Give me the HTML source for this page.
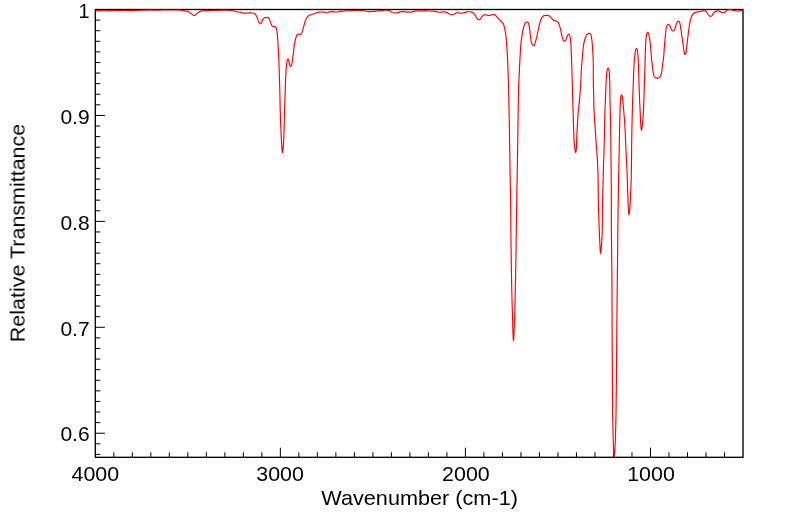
<!DOCTYPE html><html><head><meta charset="utf-8"><title>IR Spectrum</title>
<style>html,body{margin:0;padding:0;background:#fff;}svg{display:block}text{font-family:"Liberation Sans",sans-serif;fill:#000}</style></head><body>
<svg width="799" height="516" viewBox="0 0 799 516">
<rect width="799" height="516" fill="#fff"/>
<path d="M113.81 457.3V452.3M132.31 457.3V452.3M150.82 457.3V452.3M169.32 457.3V452.3M187.83 457.3V452.3M206.33 457.3V452.3M224.84 457.3V452.3M243.35 457.3V452.3M261.85 457.3V452.3M280.36 457.3V447.7M298.86 457.3V452.3M317.37 457.3V452.3M335.87 457.3V452.3M354.38 457.3V452.3M372.89 457.3V452.3M391.39 457.3V452.3M409.90 457.3V452.3M428.40 457.3V452.3M446.91 457.3V452.3M465.41 457.3V447.7M483.92 457.3V452.3M502.43 457.3V452.3M520.93 457.3V452.3M539.44 457.3V452.3M557.94 457.3V452.3M576.45 457.3V452.3M594.95 457.3V452.3M613.46 457.3V452.3M631.97 457.3V452.3M650.47 457.3V447.7M668.98 457.3V452.3M687.48 457.3V452.3M705.99 457.3V452.3M724.49 457.3V452.3M95.3 20.09H100.30M95.3 30.69H100.30M95.3 41.28H100.30M95.3 51.87H100.30M95.3 62.47H100.30M95.3 73.06H100.30M95.3 83.65H100.30M95.3 94.24H100.30M95.3 104.84H100.30M95.3 115.43H104.90M95.3 126.02H100.30M95.3 136.62H100.30M95.3 147.21H100.30M95.3 157.80H100.30M95.3 168.40H100.30M95.3 178.99H100.30M95.3 189.58H100.30M95.3 200.17H100.30M95.3 210.77H100.30M95.3 221.36H104.90M95.3 231.95H100.30M95.3 242.55H100.30M95.3 253.14H100.30M95.3 263.73H100.30M95.3 274.32H100.30M95.3 284.92H100.30M95.3 295.51H100.30M95.3 306.10H100.30M95.3 316.70H100.30M95.3 327.29H104.90M95.3 337.88H100.30M95.3 348.48H100.30M95.3 359.07H100.30M95.3 369.66H100.30M95.3 380.26H100.30M95.3 390.85H100.30M95.3 401.44H100.30M95.3 412.03H100.30M95.3 422.63H100.30M95.3 433.22H104.90M95.3 443.81H100.30M95.3 454.41H100.30" stroke="#000" stroke-width="1" fill="none"/>
<rect x="95.3" y="9.5" width="647.7" height="447.8" fill="none" stroke="#000" stroke-width="1.33"/>
<path d="M95.30 10.55 L95.64 10.56 L96.52 10.57 L97.70 10.59 L98.93 10.60 L100.00 10.60 L100.81 10.59 L101.60 10.56 L102.38 10.53 L103.18 10.51 L104.00 10.50 L104.96 10.52 L105.96 10.55 L106.97 10.60 L107.99 10.63 L109.00 10.65 L110.00 10.64 L111.00 10.60 L112.00 10.56 L113.00 10.52 L114.00 10.50 L115.00 10.51 L116.00 10.53 L117.00 10.56 L118.00 10.59 L119.00 10.60 L119.99 10.59 L120.98 10.57 L121.97 10.54 L122.97 10.51 L124.00 10.50 L125.17 10.51 L126.36 10.53 L127.57 10.56 L128.79 10.59 L130.00 10.60 L131.22 10.60 L132.46 10.58 L133.69 10.56 L134.88 10.53 L136.00 10.50 L136.84 10.47 L137.64 10.43 L138.41 10.38 L139.18 10.34 L140.00 10.30 L140.92 10.26 L141.83 10.21 L142.78 10.17 L143.82 10.13 L145.00 10.10 L147.53 10.07 L150.57 10.05 L153.83 10.05 L157.07 10.05 L160.00 10.05 L162.13 10.04 L164.15 10.02 L166.10 10.01 L168.03 10.00 L170.00 10.00 L172.06 9.99 L174.17 9.98 L176.25 9.98 L178.22 10.01 L180.00 10.10 L181.13 10.20 L182.19 10.33 L183.18 10.48 L184.11 10.64 L185.00 10.80 L185.65 10.91 L186.27 11.02 L186.85 11.13 L187.43 11.29 L188.00 11.50 L188.63 11.82 L189.25 12.22 L189.86 12.65 L190.45 13.09 L191.00 13.50 L191.43 13.82 L191.85 14.16 L192.24 14.48 L192.63 14.76 L193.00 15.00 L193.27 15.15 L193.53 15.29 L193.79 15.40 L194.05 15.47 L194.30 15.50 L194.54 15.47 L194.79 15.40 L195.02 15.29 L195.26 15.15 L195.50 15.00 L195.79 14.76 L196.07 14.47 L196.35 14.15 L196.66 13.82 L197.00 13.50 L197.52 13.08 L198.10 12.65 L198.73 12.22 L199.37 11.83 L200.00 11.50 L200.57 11.27 L201.12 11.08 L201.69 10.93 L202.31 10.81 L203.00 10.70 L204.19 10.60 L205.52 10.57 L206.97 10.59 L208.47 10.61 L210.00 10.60 L211.90 10.55 L213.93 10.48 L215.99 10.41 L218.04 10.34 L220.00 10.30 L221.69 10.27 L223.35 10.25 L224.98 10.24 L226.53 10.25 L228.00 10.30 L229.09 10.36 L230.11 10.44 L231.10 10.53 L232.06 10.65 L233.00 10.80 L233.84 10.98 L234.66 11.19 L235.46 11.42 L236.24 11.63 L237.00 11.80 L237.62 11.90 L238.21 11.97 L238.79 12.04 L239.38 12.10 L240.00 12.20 L240.75 12.37 L241.52 12.57 L242.31 12.79 L243.13 12.97 L244.00 13.10 L245.16 13.14 L246.42 13.08 L247.72 12.99 L248.97 12.91 L250.10 12.90 L250.88 12.93 L251.63 12.96 L252.33 13.02 L252.99 13.13 L253.60 13.30 L254.06 13.49 L254.49 13.70 L254.89 13.96 L255.26 14.25 L255.60 14.60 L255.96 15.09 L256.28 15.66 L256.56 16.28 L256.83 16.94 L257.10 17.60 L257.40 18.40 L257.68 19.27 L257.96 20.15 L258.26 20.98 L258.60 21.70 L258.89 22.22 L259.21 22.74 L259.54 23.21 L259.87 23.55 L260.20 23.70 L260.46 23.66 L260.74 23.51 L261.01 23.28 L261.26 23.00 L261.50 22.70 L261.77 22.19 L261.98 21.55 L262.18 20.85 L262.40 20.18 L262.70 19.60 L263.04 19.16 L263.42 18.74 L263.83 18.36 L264.27 18.05 L264.70 17.80 L265.08 17.65 L265.48 17.55 L265.89 17.50 L266.30 17.48 L266.70 17.50 L267.12 17.54 L267.55 17.60 L267.97 17.71 L268.36 17.87 L268.70 18.10 L269.02 18.49 L269.28 18.98 L269.49 19.54 L269.69 20.13 L269.90 20.70 L270.13 21.29 L270.34 21.90 L270.55 22.52 L270.77 23.13 L271.00 23.70 L271.21 24.21 L271.43 24.72 L271.65 25.21 L271.90 25.65 L272.20 26.00 L272.48 26.22 L272.80 26.39 L273.13 26.52 L273.47 26.62 L273.80 26.70 L274.11 26.72 L274.42 26.67 L274.74 26.62 L275.03 26.61 L275.30 26.70 L275.61 27.00 L275.87 27.44 L276.10 27.99 L276.31 28.59 L276.50 29.20 L276.73 30.09 L276.91 31.08 L277.05 32.14 L277.18 33.23 L277.30 34.30 L277.41 35.37 L277.51 36.42 L277.59 37.50 L277.66 38.68 L277.75 40.00 L277.91 42.56 L278.09 45.48 L278.26 48.68 L278.44 52.05 L278.60 55.50 L278.79 59.95 L278.98 64.63 L279.16 69.53 L279.33 74.65 L279.50 80.00 L279.70 87.31 L279.89 95.25 L280.07 103.40 L280.27 111.38 L280.50 118.80 L280.72 124.62 L280.95 130.40 L281.20 135.89 L281.45 140.84 L281.70 145.00 L281.83 147.08 L281.97 149.15 L282.10 150.95 L282.25 152.22 L282.40 152.70 L282.52 152.46 L282.64 151.81 L282.77 150.92 L282.89 149.94 L283.00 149.00 L283.14 147.83 L283.26 146.63 L283.38 145.32 L283.49 143.80 L283.60 142.00 L283.86 136.06 L284.11 128.18 L284.35 119.38 L284.58 110.65 L284.80 103.00 L284.96 97.91 L285.12 93.05 L285.27 88.43 L285.43 84.08 L285.60 80.00 L285.73 77.11 L285.85 74.35 L285.98 71.74 L286.12 69.32 L286.30 67.10 L286.43 65.66 L286.57 64.28 L286.71 63.01 L286.89 61.87 L287.10 60.90 L287.24 60.38 L287.40 59.88 L287.56 59.44 L287.73 59.12 L287.90 59.00 L288.04 59.07 L288.18 59.26 L288.32 59.54 L288.46 59.86 L288.60 60.20 L288.83 60.96 L289.04 61.94 L289.24 62.99 L289.46 63.99 L289.70 64.80 L289.87 65.23 L290.04 65.66 L290.22 66.03 L290.41 66.29 L290.60 66.40 L290.78 66.34 L290.97 66.16 L291.16 65.88 L291.34 65.55 L291.50 65.20 L291.77 64.35 L291.98 63.25 L292.16 62.00 L292.32 60.69 L292.50 59.40 L292.71 57.91 L292.92 56.35 L293.11 54.76 L293.31 53.16 L293.50 51.60 L293.68 50.11 L293.84 48.60 L294.00 47.12 L294.19 45.68 L294.40 44.30 L294.61 43.17 L294.84 42.07 L295.08 41.01 L295.33 39.99 L295.60 39.00 L295.82 38.13 L296.04 37.24 L296.28 36.40 L296.56 35.66 L296.90 35.10 L297.16 34.84 L297.45 34.64 L297.75 34.49 L298.07 34.38 L298.40 34.30 L298.80 34.30 L299.25 34.39 L299.70 34.50 L300.13 34.57 L300.50 34.50 L300.82 34.28 L301.10 33.96 L301.34 33.57 L301.57 33.14 L301.80 32.70 L302.07 32.10 L302.32 31.44 L302.55 30.72 L302.77 29.97 L303.00 29.20 L303.30 28.17 L303.59 27.07 L303.89 25.92 L304.19 24.79 L304.50 23.70 L304.78 22.73 L305.07 21.75 L305.36 20.81 L305.67 19.91 L306.00 19.10 L306.27 18.52 L306.54 17.98 L306.83 17.47 L307.15 17.01 L307.50 16.60 L307.85 16.28 L308.23 16.00 L308.63 15.75 L309.05 15.52 L309.50 15.30 L310.05 15.07 L310.62 14.87 L311.23 14.69 L311.86 14.51 L312.50 14.30 L313.30 14.01 L314.16 13.68 L315.02 13.36 L315.85 13.05 L316.60 12.80 L317.06 12.66 L317.48 12.53 L317.88 12.43 L318.29 12.33 L318.75 12.25 L319.43 12.15 L320.16 12.07 L320.93 12.01 L321.72 11.98 L322.50 12.00 L323.37 12.11 L324.26 12.32 L325.16 12.55 L326.04 12.71 L326.90 12.75 L327.65 12.61 L328.37 12.35 L329.08 12.05 L329.81 11.77 L330.60 11.60 L331.64 11.57 L332.73 11.68 L333.87 11.83 L335.05 11.96 L336.25 12.00 L337.67 11.89 L339.15 11.68 L340.66 11.43 L342.19 11.19 L343.75 11.00 L345.45 10.87 L347.17 10.77 L348.92 10.70 L350.70 10.64 L352.50 10.60 L354.50 10.55 L356.57 10.50 L358.64 10.48 L360.64 10.50 L362.50 10.60 L363.83 10.77 L365.06 11.00 L366.24 11.26 L367.45 11.47 L368.75 11.60 L370.41 11.61 L372.17 11.51 L373.98 11.35 L375.77 11.16 L377.50 11.00 L379.07 10.84 L380.64 10.65 L382.17 10.46 L383.64 10.32 L385.00 10.25 L385.98 10.24 L386.92 10.25 L387.80 10.29 L388.63 10.40 L389.40 10.60 L389.96 10.87 L390.45 11.22 L390.91 11.60 L391.38 11.96 L391.90 12.25 L392.49 12.48 L393.10 12.68 L393.73 12.84 L394.37 12.95 L395.00 13.00 L395.62 12.99 L396.24 12.91 L396.86 12.79 L397.48 12.64 L398.10 12.50 L398.71 12.33 L399.31 12.12 L399.91 11.90 L400.55 11.72 L401.25 11.60 L402.39 11.58 L403.68 11.69 L405.02 11.85 L406.33 12.01 L407.50 12.10 L408.25 12.12 L408.94 12.12 L409.60 12.11 L410.27 12.07 L411.00 12.00 L411.96 11.85 L412.96 11.63 L414.00 11.39 L415.09 11.16 L416.25 11.00 L417.85 10.89 L419.59 10.84 L421.39 10.84 L423.21 10.87 L425.00 10.90 L426.78 10.93 L428.59 10.96 L430.39 11.02 L432.13 11.11 L433.75 11.25 L434.97 11.43 L436.12 11.67 L437.22 11.92 L438.31 12.13 L439.40 12.25 L440.44 12.23 L441.48 12.11 L442.51 11.97 L443.49 11.88 L444.40 11.90 L445.08 12.02 L445.72 12.20 L446.33 12.41 L446.92 12.65 L447.50 12.90 L448.02 13.16 L448.53 13.45 L449.02 13.75 L449.51 14.03 L450.00 14.25 L450.45 14.42 L450.91 14.57 L451.36 14.69 L451.81 14.76 L452.25 14.75 L452.68 14.65 L453.10 14.45 L453.52 14.22 L453.95 13.97 L454.40 13.75 L454.93 13.52 L455.48 13.28 L456.05 13.05 L456.64 12.86 L457.25 12.75 L458.00 12.76 L458.80 12.89 L459.63 13.06 L460.45 13.21 L461.25 13.25 L462.01 13.16 L462.76 13.00 L463.51 12.79 L464.25 12.58 L465.00 12.40 L465.75 12.24 L466.51 12.07 L467.27 11.91 L468.02 11.80 L468.75 11.75 L469.41 11.76 L470.06 11.81 L470.70 11.91 L471.31 12.05 L471.90 12.25 L472.45 12.50 L472.98 12.81 L473.48 13.16 L473.96 13.56 L474.40 14.00 L474.82 14.57 L475.18 15.23 L475.52 15.93 L475.86 16.62 L476.25 17.25 L476.67 17.85 L477.11 18.48 L477.57 19.06 L478.04 19.51 L478.50 19.75 L478.85 19.76 L479.20 19.67 L479.56 19.49 L479.91 19.26 L480.25 19.00 L480.71 18.52 L481.14 17.89 L481.57 17.19 L482.02 16.53 L482.50 16.00 L482.91 15.65 L483.34 15.34 L483.77 15.08 L484.24 14.88 L484.75 14.75 L485.46 14.76 L486.25 14.94 L487.08 15.20 L487.92 15.42 L488.75 15.50 L489.63 15.38 L490.54 15.12 L491.45 14.82 L492.31 14.58 L493.10 14.50 L493.64 14.56 L494.15 14.67 L494.64 14.84 L495.09 15.05 L495.50 15.30 L495.85 15.59 L496.14 15.92 L496.42 16.29 L496.70 16.67 L497.00 17.05 L497.38 17.49 L497.77 17.94 L498.18 18.40 L498.59 18.86 L499.00 19.30 L499.41 19.72 L499.83 20.14 L500.24 20.54 L500.66 20.93 L501.05 21.30 L501.37 21.57 L501.69 21.82 L502.00 22.06 L502.29 22.32 L502.55 22.60 L502.79 22.91 L503.00 23.24 L503.20 23.59 L503.38 23.96 L503.55 24.35 L503.73 24.85 L503.89 25.38 L504.03 25.94 L504.16 26.51 L504.30 27.10 L504.47 27.78 L504.64 28.50 L504.80 29.23 L504.96 29.95 L505.10 30.65 L505.22 31.28 L505.32 31.89 L505.42 32.50 L505.51 33.10 L505.60 33.70 L505.69 34.26 L505.77 34.80 L505.85 35.35 L505.93 35.91 L506.00 36.50 L506.08 37.25 L506.15 38.02 L506.21 38.82 L506.28 39.67 L506.35 40.55 L506.45 41.76 L506.55 43.07 L506.66 44.43 L506.76 45.78 L506.85 47.10 L506.93 48.31 L507.00 49.50 L507.06 50.68 L507.13 51.88 L507.20 53.10 L507.28 54.43 L507.36 55.78 L507.45 57.15 L507.53 58.55 L507.60 60.00 L507.68 61.79 L507.76 63.71 L507.83 65.63 L507.90 67.44 L507.95 69.00 L507.97 69.79 L507.99 70.46 L508.01 71.09 L508.03 71.78 L508.05 72.60 L508.11 74.35 L508.19 76.33 L508.27 78.58 L508.36 81.13 L508.45 84.00 L508.63 91.19 L508.82 100.09 L509.02 109.98 L509.22 120.18 L509.40 130.00 L509.58 140.23 L509.74 150.93 L509.90 161.52 L510.06 171.41 L510.20 180.00 L510.29 184.46 L510.37 188.30 L510.45 191.90 L510.53 195.67 L510.60 200.00 L510.69 207.66 L510.77 216.43 L510.85 225.57 L510.92 234.34 L511.00 242.00 L511.06 246.40 L511.11 250.33 L511.17 254.06 L511.23 257.86 L511.30 262.00 L511.39 267.85 L511.49 274.27 L511.59 280.77 L511.70 286.85 L511.80 292.00 L511.86 294.51 L511.92 296.67 L511.97 298.69 L512.03 300.73 L512.10 303.00 L512.19 306.21 L512.29 309.68 L512.40 313.24 L512.50 316.73 L512.60 320.00 L512.67 322.60 L512.74 325.15 L512.81 327.60 L512.88 329.90 L512.95 332.00 L513.00 333.37 L513.04 334.67 L513.08 335.88 L513.13 336.99 L513.20 338.00 L513.25 338.67 L513.31 339.37 L513.38 339.99 L513.44 340.43 L513.50 340.60 L513.55 340.46 L513.61 340.11 L513.66 339.61 L513.71 339.05 L513.75 338.50 L513.81 337.58 L513.85 336.52 L513.89 335.37 L513.93 334.18 L513.98 333.00 L514.04 331.66 L514.10 330.28 L514.17 328.87 L514.23 327.44 L514.30 326.00 L514.37 324.49 L514.45 322.99 L514.52 321.46 L514.59 319.81 L514.66 318.00 L514.75 314.75 L514.84 310.97 L514.93 307.03 L515.00 303.25 L515.07 300.00 L515.11 298.24 L515.15 296.71 L515.18 295.26 L515.21 293.74 L515.25 292.00 L515.31 289.07 L515.38 285.84 L515.45 282.39 L515.53 278.75 L515.60 275.00 L515.69 270.11 L515.78 264.99 L515.87 259.61 L515.96 253.96 L516.05 248.00 L516.17 239.52 L516.30 230.29 L516.43 220.71 L516.56 211.15 L516.70 202.00 L516.84 194.01 L516.98 186.22 L517.12 178.52 L517.27 170.81 L517.40 163.00 L517.53 154.82 L517.64 146.55 L517.76 138.26 L517.88 130.05 L518.00 122.00 L518.12 114.25 L518.24 106.23 L518.37 98.48 L518.50 91.56 L518.65 86.00 L518.73 83.94 L518.81 82.19 L518.89 80.64 L518.97 79.16 L519.05 77.60 L519.12 76.09 L519.19 74.62 L519.26 73.16 L519.33 71.66 L519.40 70.10 L519.49 68.15 L519.59 66.08 L519.70 63.97 L519.80 61.92 L519.90 60.00 L519.98 58.54 L520.06 57.17 L520.14 55.83 L520.22 54.49 L520.30 53.10 L520.39 51.52 L520.48 49.89 L520.58 48.25 L520.68 46.64 L520.80 45.10 L520.92 43.80 L521.04 42.52 L521.17 41.28 L521.31 40.10 L521.45 39.00 L521.55 38.25 L521.66 37.56 L521.76 36.91 L521.88 36.23 L522.00 35.50 L522.16 34.49 L522.34 33.42 L522.53 32.31 L522.73 31.21 L522.95 30.15 L523.17 29.19 L523.41 28.24 L523.65 27.31 L523.92 26.42 L524.20 25.60 L524.43 24.97 L524.67 24.35 L524.92 23.77 L525.20 23.26 L525.50 22.85 L525.73 22.62 L525.98 22.42 L526.23 22.26 L526.49 22.15 L526.75 22.10 L527.00 22.11 L527.27 22.16 L527.53 22.27 L527.78 22.41 L528.00 22.60 L528.26 22.95 L528.48 23.40 L528.67 23.93 L528.84 24.50 L529.00 25.10 L529.20 25.99 L529.36 26.99 L529.50 28.05 L529.62 29.12 L529.75 30.15 L529.87 31.13 L529.98 32.12 L530.09 33.10 L530.19 34.06 L530.30 35.00 L530.39 35.82 L530.48 36.62 L530.57 37.40 L530.67 38.19 L530.80 39.00 L530.95 39.94 L531.12 40.94 L531.30 41.92 L531.53 42.83 L531.80 43.60 L532.02 44.04 L532.26 44.44 L532.51 44.79 L532.78 45.08 L533.05 45.30 L533.24 45.41 L533.44 45.50 L533.64 45.55 L533.83 45.55 L534.00 45.50 L534.22 45.27 L534.41 44.89 L534.57 44.40 L534.73 43.85 L534.90 43.30 L535.19 42.45 L535.49 41.51 L535.80 40.49 L536.10 39.41 L536.40 38.30 L536.77 36.81 L537.13 35.20 L537.48 33.53 L537.84 31.85 L538.20 30.20 L538.55 28.56 L538.89 26.87 L539.24 25.21 L539.61 23.63 L540.00 22.20 L540.31 21.22 L540.61 20.29 L540.94 19.42 L541.29 18.62 L541.70 17.90 L542.06 17.38 L542.44 16.90 L542.85 16.47 L543.29 16.10 L543.75 15.80 L544.22 15.59 L544.73 15.45 L545.25 15.36 L545.78 15.31 L546.30 15.30 L546.81 15.32 L547.32 15.37 L547.83 15.47 L548.32 15.61 L548.80 15.80 L549.29 16.07 L549.76 16.40 L550.22 16.78 L550.66 17.18 L551.10 17.60 L551.55 18.10 L551.97 18.66 L552.38 19.23 L552.82 19.75 L553.30 20.15 L553.77 20.38 L554.28 20.53 L554.80 20.64 L555.31 20.75 L555.80 20.90 L556.25 21.07 L556.70 21.25 L557.13 21.44 L557.53 21.69 L557.90 22.00 L558.28 22.49 L558.60 23.08 L558.88 23.74 L559.14 24.45 L559.40 25.20 L559.74 26.27 L560.04 27.44 L560.33 28.68 L560.61 29.95 L560.90 31.20 L561.19 32.54 L561.47 33.93 L561.76 35.32 L562.06 36.63 L562.40 37.80 L562.67 38.62 L562.94 39.44 L563.23 40.18 L563.54 40.76 L563.90 41.10 L564.15 41.17 L564.41 41.16 L564.69 41.09 L564.96 40.97 L565.20 40.80 L565.53 40.40 L565.82 39.82 L566.08 39.15 L566.34 38.45 L566.60 37.80 L566.86 37.16 L567.10 36.47 L567.35 35.81 L567.61 35.23 L567.90 34.80 L568.09 34.62 L568.30 34.46 L568.51 34.34 L568.71 34.28 L568.90 34.30 L569.14 34.48 L569.35 34.81 L569.55 35.25 L569.73 35.76 L569.90 36.30 L570.15 37.34 L570.34 38.58 L570.49 39.96 L570.62 41.45 L570.75 43.00 L570.92 45.28 L571.06 47.76 L571.18 50.39 L571.29 53.15 L571.40 56.00 L571.54 59.66 L571.67 63.51 L571.79 67.52 L571.92 71.69 L572.05 76.00 L572.22 81.52 L572.38 87.37 L572.56 93.39 L572.73 99.39 L572.90 105.20 L573.06 110.63 L573.23 116.15 L573.40 121.53 L573.55 126.55 L573.70 131.00 L573.78 133.56 L573.83 135.90 L573.90 138.07 L573.98 140.12 L574.10 142.10 L574.23 143.65 L574.38 145.14 L574.54 146.57 L574.72 147.89 L574.90 149.10 L575.03 149.95 L575.17 150.83 L575.31 151.62 L575.46 152.18 L575.60 152.40 L575.75 152.19 L575.90 151.63 L576.05 150.85 L576.19 149.96 L576.30 149.10 L576.42 147.68 L576.49 146.03 L576.52 144.27 L576.55 142.55 L576.60 141.00 L576.65 139.95 L576.70 139.01 L576.74 138.08 L576.80 137.10 L576.85 136.00 L576.94 134.06 L577.03 131.84 L577.13 129.51 L577.24 127.22 L577.35 125.10 L577.45 123.50 L577.55 121.98 L577.65 120.50 L577.75 119.05 L577.85 117.60 L577.94 116.24 L578.02 114.88 L578.11 113.54 L578.20 112.25 L578.30 111.00 L578.40 110.01 L578.51 109.08 L578.62 108.16 L578.73 107.22 L578.85 106.20 L579.00 104.78 L579.16 103.25 L579.31 101.66 L579.46 100.09 L579.60 98.60 L579.71 97.34 L579.81 96.12 L579.91 94.92 L580.00 93.72 L580.10 92.50 L580.20 91.21 L580.31 89.90 L580.41 88.59 L580.51 87.29 L580.60 86.00 L580.67 84.80 L580.73 83.62 L580.79 82.44 L580.84 81.24 L580.90 80.00 L580.96 78.55 L581.01 77.07 L581.06 75.55 L581.12 73.97 L581.20 72.30 L581.34 70.06 L581.51 67.68 L581.69 65.20 L581.89 62.69 L582.10 60.20 L582.31 57.55 L582.53 54.80 L582.76 52.07 L583.01 49.46 L583.30 47.10 L583.52 45.52 L583.76 44.04 L584.00 42.65 L584.28 41.34 L584.60 40.10 L584.88 39.17 L585.18 38.29 L585.50 37.46 L585.84 36.69 L586.20 36.00 L586.48 35.52 L586.76 35.07 L587.06 34.66 L587.37 34.30 L587.70 34.00 L587.99 33.78 L588.29 33.58 L588.60 33.41 L588.90 33.31 L589.20 33.30 L589.52 33.39 L589.84 33.57 L590.15 33.83 L590.44 34.14 L590.70 34.50 L591.01 35.19 L591.23 36.04 L591.40 37.01 L591.55 38.04 L591.70 39.10 L591.90 40.52 L592.07 42.04 L592.22 43.65 L592.36 45.34 L592.50 47.10 L592.67 49.46 L592.83 51.96 L592.97 54.59 L593.10 57.33 L593.20 60.20 L593.28 64.10 L593.31 68.31 L593.31 72.65 L593.32 76.94 L593.35 81.00 L593.41 84.36 L593.48 87.63 L593.55 90.82 L593.63 93.94 L593.70 97.00 L593.76 99.74 L593.81 102.46 L593.86 105.11 L593.92 107.64 L594.00 110.00 L594.08 111.65 L594.16 113.19 L594.26 114.66 L594.35 116.12 L594.45 117.60 L594.54 119.08 L594.64 120.54 L594.74 122.00 L594.84 123.51 L594.95 125.10 L595.09 127.19 L595.25 129.43 L595.41 131.72 L595.56 133.94 L595.70 136.00 L595.80 137.50 L595.89 138.91 L595.97 140.27 L596.06 141.62 L596.15 143.00 L596.25 144.41 L596.36 145.82 L596.47 147.23 L596.59 148.68 L596.70 150.20 L596.84 152.09 L596.99 154.08 L597.14 156.12 L597.28 158.17 L597.40 160.20 L597.51 162.21 L597.61 164.22 L597.70 166.24 L597.78 168.26 L597.85 170.30 L597.91 172.35 L597.97 174.35 L598.01 176.39 L598.05 178.58 L598.10 181.00 L598.16 185.20 L598.22 189.94 L598.28 195.00 L598.35 200.15 L598.45 205.20 L598.59 210.43 L598.75 215.83 L598.93 221.20 L599.12 226.32 L599.30 231.00 L599.43 234.15 L599.55 237.12 L599.68 239.93 L599.81 242.59 L599.95 245.10 L600.06 247.17 L600.17 249.37 L600.28 251.38 L600.41 252.84 L600.55 253.40 L600.72 252.84 L600.92 251.38 L601.13 249.38 L601.33 247.17 L601.50 245.10 L601.69 242.59 L601.84 239.93 L601.98 237.12 L602.10 234.15 L602.20 231.00 L602.30 226.32 L602.36 221.20 L602.39 215.83 L602.43 210.43 L602.50 205.20 L602.60 200.23 L602.72 195.21 L602.85 190.27 L602.98 185.49 L603.10 181.00 L603.18 177.65 L603.26 174.51 L603.33 171.47 L603.41 168.43 L603.50 165.30 L603.61 161.91 L603.74 158.47 L603.87 155.01 L603.99 151.55 L604.10 148.10 L604.19 144.67 L604.28 141.22 L604.36 137.79 L604.43 134.37 L604.50 131.00 L604.56 127.83 L604.61 124.71 L604.66 121.60 L604.72 118.47 L604.80 115.30 L604.92 111.91 L605.05 108.47 L605.20 105.01 L605.36 101.55 L605.50 98.10 L605.63 94.59 L605.75 90.98 L605.87 87.42 L606.00 84.05 L606.15 81.00 L606.26 79.01 L606.37 77.12 L606.49 75.36 L606.63 73.74 L606.80 72.30 L606.92 71.45 L607.03 70.65 L607.16 69.92 L607.32 69.29 L607.50 68.80 L607.61 68.59 L607.73 68.40 L607.85 68.24 L607.98 68.13 L608.10 68.10 L608.25 68.18 L608.40 68.37 L608.54 68.64 L608.68 68.96 L608.80 69.30 L608.99 70.06 L609.12 71.01 L609.23 72.08 L609.32 73.20 L609.40 74.30 L609.49 75.52 L609.55 76.74 L609.61 78.02 L609.65 79.42 L609.70 81.00 L609.77 84.20 L609.83 87.95 L609.88 92.01 L609.93 96.17 L610.00 100.20 L610.09 104.29 L610.20 108.51 L610.31 112.69 L610.41 116.67 L610.50 120.30 L610.55 122.59 L610.59 124.61 L610.63 126.57 L610.66 128.64 L610.70 131.00 L610.75 135.20 L610.80 139.94 L610.85 145.00 L610.90 150.15 L610.95 155.20 L611.01 160.17 L611.07 165.05 L611.14 170.03 L611.20 175.29 L611.25 181.00 L611.30 190.24 L611.32 200.68 L611.34 211.51 L611.36 221.89 L611.40 231.00 L611.44 236.38 L611.49 241.27 L611.54 245.88 L611.60 250.45 L611.65 255.20 L611.71 260.17 L611.77 265.04 L611.84 270.01 L611.90 275.27 L611.95 281.00 L612.00 290.16 L612.02 300.34 L612.04 311.04 L612.06 321.77 L612.10 332.00 L612.15 341.12 L612.21 350.17 L612.28 359.06 L612.34 367.70 L612.40 376.00 L612.44 382.97 L612.48 389.90 L612.52 396.55 L612.56 402.67 L612.60 408.00 L612.63 410.74 L612.65 413.13 L612.68 415.35 L612.71 417.58 L612.75 420.00 L612.81 423.09 L612.87 426.35 L612.94 429.66 L613.02 432.91 L613.10 436.00 L613.17 438.57 L613.25 441.10 L613.33 443.55 L613.41 445.86 L613.50 448.00 L613.57 449.48 L613.63 450.89 L613.70 452.22 L613.78 453.43 L613.85 454.50 L613.90 455.16 L613.95 455.82 L614.00 456.42 L614.05 456.84 L614.10 457.00 L614.16 456.83 L614.22 456.40 L614.28 455.79 L614.34 455.13 L614.40 454.50 L614.48 453.71 L614.56 452.87 L614.64 451.97 L614.72 451.02 L614.80 450.00 L614.91 448.42 L615.01 446.70 L615.11 444.87 L615.21 442.96 L615.30 441.00 L615.40 438.53 L615.48 435.89 L615.56 433.19 L615.63 430.53 L615.70 428.00 L615.76 426.00 L615.81 424.15 L615.86 422.30 L615.90 420.30 L615.95 418.00 L616.03 413.46 L616.10 408.30 L616.16 402.60 L616.23 396.47 L616.30 390.00 L616.40 379.68 L616.50 368.13 L616.60 355.93 L616.70 343.70 L616.80 332.00 L616.90 321.31 L617.00 310.54 L617.11 300.00 L617.21 290.05 L617.30 281.00 L617.36 275.27 L617.43 270.01 L617.49 265.04 L617.55 260.17 L617.60 255.20 L617.64 250.28 L617.68 245.38 L617.72 240.51 L617.75 235.71 L617.80 231.00 L617.85 226.80 L617.91 222.74 L617.97 218.70 L618.03 214.56 L618.10 210.20 L618.18 204.65 L618.27 198.79 L618.36 192.79 L618.45 186.80 L618.55 181.00 L618.65 175.72 L618.77 170.53 L618.88 165.38 L618.99 160.28 L619.10 155.20 L619.20 150.23 L619.29 145.21 L619.38 140.27 L619.46 135.49 L619.55 131.00 L619.62 127.62 L619.68 124.41 L619.75 121.32 L619.82 118.29 L619.90 115.30 L619.98 112.52 L620.07 109.74 L620.16 107.03 L620.27 104.48 L620.40 102.20 L620.49 100.75 L620.58 99.36 L620.68 98.08 L620.82 96.97 L621.00 96.10 L621.11 95.75 L621.23 95.43 L621.35 95.15 L621.48 94.97 L621.60 94.90 L621.76 95.04 L621.93 95.40 L622.10 95.91 L622.26 96.50 L622.40 97.10 L622.62 98.37 L622.78 99.92 L622.92 101.65 L623.05 103.44 L623.20 105.20 L623.38 107.14 L623.56 109.12 L623.75 111.15 L623.93 113.21 L624.10 115.30 L624.28 117.54 L624.46 119.79 L624.63 122.09 L624.79 124.48 L624.95 127.00 L625.13 130.39 L625.29 134.03 L625.44 137.79 L625.59 141.52 L625.75 145.10 L625.90 148.19 L626.05 151.20 L626.20 154.17 L626.35 157.15 L626.50 160.20 L626.66 163.49 L626.81 166.83 L626.97 170.19 L627.11 173.59 L627.25 177.00 L627.37 180.60 L627.48 184.27 L627.57 187.95 L627.68 191.57 L627.80 195.10 L627.92 198.35 L628.05 201.67 L628.19 204.87 L628.34 207.77 L628.50 210.20 L628.59 211.41 L628.68 212.62 L628.78 213.67 L628.89 214.42 L629.00 214.70 L629.13 214.42 L629.27 213.68 L629.42 212.63 L629.57 211.42 L629.70 210.20 L629.90 207.74 L630.07 204.78 L630.22 201.53 L630.36 198.23 L630.50 195.10 L630.64 192.29 L630.78 189.56 L630.92 186.81 L631.04 183.99 L631.15 181.00 L631.25 177.15 L631.33 173.14 L631.39 168.97 L631.44 164.65 L631.50 160.20 L631.57 154.67 L631.63 148.87 L631.68 142.91 L631.76 136.91 L631.85 131.00 L631.97 125.10 L632.12 119.10 L632.27 113.15 L632.44 107.41 L632.60 102.00 L632.73 97.93 L632.87 94.08 L633.01 90.37 L633.16 86.70 L633.30 83.00 L633.43 79.32 L633.55 75.60 L633.67 71.93 L633.82 68.40 L634.00 65.10 L634.17 62.63 L634.36 60.24 L634.56 57.96 L634.78 55.87 L635.00 54.00 L635.14 52.89 L635.27 51.82 L635.41 50.86 L635.58 50.03 L635.80 49.40 L635.93 49.15 L636.07 48.93 L636.21 48.75 L636.36 48.63 L636.50 48.60 L636.66 48.68 L636.82 48.88 L636.97 49.17 L637.12 49.52 L637.25 49.90 L637.51 51.05 L637.70 52.59 L637.85 54.36 L637.98 56.25 L638.10 58.10 L638.24 60.35 L638.35 62.75 L638.44 65.21 L638.52 67.65 L638.60 70.00 L638.67 72.00 L638.72 73.90 L638.78 75.79 L638.83 77.79 L638.90 80.00 L639.02 83.64 L639.15 87.75 L639.30 92.04 L639.45 96.22 L639.60 100.00 L639.72 102.60 L639.84 105.04 L639.96 107.37 L640.08 109.67 L640.20 112.00 L640.30 114.33 L640.38 116.68 L640.47 119.00 L640.57 121.22 L640.70 123.30 L640.82 125.01 L640.94 126.84 L641.07 128.51 L641.23 129.72 L641.40 130.20 L641.53 130.03 L641.67 129.57 L641.82 128.91 L641.97 128.16 L642.10 127.40 L642.31 125.95 L642.51 124.22 L642.68 122.32 L642.85 120.32 L643.00 118.30 L643.17 115.81 L643.32 113.19 L643.46 110.49 L643.58 107.74 L643.70 105.00 L643.82 102.11 L643.92 99.18 L644.01 96.23 L644.10 93.26 L644.20 90.30 L644.30 87.29 L644.41 84.28 L644.51 81.25 L644.61 78.23 L644.70 75.20 L644.78 72.16 L644.86 69.12 L644.94 66.08 L645.01 63.03 L645.10 60.00 L645.19 56.93 L645.27 53.80 L645.36 50.70 L645.47 47.74 L645.60 45.00 L645.71 43.04 L645.83 41.15 L645.96 39.36 L646.11 37.73 L646.30 36.30 L646.43 35.49 L646.57 34.73 L646.72 34.04 L646.89 33.45 L647.10 33.00 L647.23 32.81 L647.37 32.64 L647.52 32.50 L647.66 32.42 L647.80 32.40 L647.97 32.50 L648.14 32.72 L648.30 33.03 L648.45 33.38 L648.60 33.75 L648.83 34.46 L649.05 35.31 L649.24 36.26 L649.42 37.27 L649.60 38.30 L649.81 39.69 L650.00 41.18 L650.17 42.75 L650.34 44.36 L650.50 46.00 L650.67 47.94 L650.83 49.97 L650.99 52.04 L651.14 54.07 L651.30 56.00 L651.45 57.60 L651.59 59.14 L651.74 60.65 L651.90 62.14 L652.05 63.60 L652.19 64.96 L652.34 66.31 L652.48 67.64 L652.63 68.91 L652.80 70.10 L652.94 70.98 L653.08 71.82 L653.23 72.61 L653.39 73.38 L653.55 74.10 L653.68 74.67 L653.81 75.22 L653.95 75.74 L654.11 76.22 L654.30 76.65 L654.47 76.95 L654.66 77.23 L654.86 77.47 L655.08 77.67 L655.30 77.80 L655.49 77.83 L655.68 77.80 L655.89 77.74 L656.09 77.70 L656.30 77.70 L656.55 77.81 L656.81 77.98 L657.08 78.18 L657.34 78.34 L657.60 78.40 L657.85 78.35 L658.10 78.22 L658.35 78.05 L658.60 77.87 L658.85 77.70 L659.11 77.56 L659.37 77.43 L659.63 77.28 L659.88 77.12 L660.10 76.90 L660.35 76.54 L660.57 76.12 L660.76 75.64 L660.93 75.13 L661.10 74.60 L661.30 73.88 L661.47 73.10 L661.63 72.28 L661.77 71.44 L661.90 70.60 L662.02 69.72 L662.12 68.83 L662.21 67.93 L662.30 67.02 L662.40 66.10 L662.53 65.10 L662.67 64.08 L662.81 63.05 L662.96 62.02 L663.10 61.00 L663.24 60.02 L663.37 59.05 L663.51 58.08 L663.64 57.08 L663.75 56.00 L663.87 54.52 L663.96 52.94 L664.05 51.29 L664.14 49.63 L664.25 48.00 L664.39 46.39 L664.54 44.77 L664.70 43.16 L664.85 41.57 L665.00 40.00 L665.12 38.55 L665.24 37.12 L665.35 35.71 L665.47 34.33 L665.60 33.00 L665.72 31.86 L665.83 30.73 L665.95 29.63 L666.10 28.61 L666.30 27.70 L666.46 27.11 L666.63 26.55 L666.83 26.03 L667.05 25.58 L667.30 25.20 L667.52 24.95 L667.75 24.73 L668.00 24.55 L668.26 24.43 L668.50 24.40 L668.77 24.50 L669.03 24.71 L669.30 25.00 L669.55 25.34 L669.80 25.70 L670.12 26.30 L670.41 27.03 L670.69 27.80 L670.98 28.56 L671.30 29.20 L671.58 29.66 L671.87 30.13 L672.18 30.54 L672.49 30.85 L672.80 31.00 L673.06 30.99 L673.33 30.88 L673.60 30.70 L673.86 30.46 L674.10 30.20 L674.43 29.68 L674.72 29.01 L674.99 28.25 L675.24 27.46 L675.50 26.70 L675.77 25.88 L676.02 25.02 L676.27 24.16 L676.54 23.37 L676.85 22.70 L677.10 22.29 L677.36 21.90 L677.64 21.56 L677.92 21.31 L678.20 21.20 L678.44 21.22 L678.70 21.33 L678.95 21.50 L679.19 21.73 L679.40 22.00 L679.69 22.59 L679.90 23.36 L680.07 24.25 L680.23 25.21 L680.40 26.20 L680.65 27.64 L680.89 29.23 L681.13 30.90 L681.36 32.61 L681.60 34.30 L681.86 36.09 L682.13 37.93 L682.40 39.77 L682.66 41.58 L682.90 43.30 L683.09 44.74 L683.28 46.16 L683.45 47.54 L683.63 48.83 L683.80 50.00 L683.91 50.76 L684.01 51.49 L684.12 52.16 L684.24 52.77 L684.40 53.30 L684.52 53.62 L684.66 53.95 L684.81 54.23 L684.96 54.43 L685.10 54.50 L685.24 54.43 L685.39 54.23 L685.54 53.95 L685.68 53.62 L685.80 53.30 L685.96 52.76 L686.09 52.13 L686.20 51.45 L686.30 50.73 L686.40 50.00 L686.51 49.15 L686.60 48.28 L686.69 47.36 L686.79 46.38 L686.90 45.30 L687.12 43.38 L687.37 41.18 L687.64 38.85 L687.92 36.51 L688.20 34.30 L688.44 32.39 L688.68 30.51 L688.93 28.66 L689.18 26.89 L689.45 25.20 L689.67 23.87 L689.89 22.58 L690.12 21.35 L690.37 20.19 L690.65 19.10 L690.89 18.31 L691.14 17.57 L691.40 16.86 L691.69 16.21 L692.00 15.60 L692.27 15.14 L692.55 14.70 L692.84 14.30 L693.16 13.93 L693.50 13.60 L693.86 13.32 L694.25 13.08 L694.66 12.87 L695.08 12.67 L695.50 12.50 L695.94 12.35 L696.38 12.22 L696.83 12.11 L697.30 12.01 L697.80 11.90 L698.46 11.75 L699.16 11.60 L699.88 11.46 L700.60 11.32 L701.30 11.20 L701.95 11.08 L702.60 10.95 L703.23 10.84 L703.84 10.78 L704.40 10.80 L704.80 10.86 L705.18 10.96 L705.54 11.09 L705.87 11.27 L706.20 11.50 L706.58 11.89 L706.93 12.40 L707.25 12.95 L707.57 13.51 L707.90 14.00 L708.18 14.38 L708.45 14.75 L708.72 15.11 L709.00 15.43 L709.30 15.70 L709.57 15.91 L709.85 16.11 L710.14 16.27 L710.42 16.38 L710.70 16.40 L710.99 16.32 L711.27 16.15 L711.55 15.91 L711.83 15.64 L712.10 15.35 L712.44 14.92 L712.77 14.41 L713.10 13.87 L713.44 13.35 L713.80 12.90 L714.14 12.56 L714.49 12.25 L714.86 11.96 L715.23 11.71 L715.60 11.50 L715.93 11.35 L716.26 11.22 L716.60 11.12 L716.94 11.05 L717.30 11.00 L717.71 10.98 L718.14 10.98 L718.57 11.02 L718.99 11.10 L719.40 11.20 L719.78 11.36 L720.14 11.57 L720.49 11.80 L720.84 12.02 L721.20 12.20 L721.54 12.34 L721.88 12.48 L722.21 12.59 L722.56 12.67 L722.90 12.70 L723.26 12.68 L723.63 12.61 L723.99 12.50 L724.35 12.36 L724.70 12.20 L725.06 11.97 L725.39 11.69 L725.73 11.38 L726.06 11.07 L726.40 10.80 L726.73 10.56 L727.05 10.33 L727.38 10.12 L727.73 9.93 L728.10 9.80 L728.55 9.72 L729.04 9.69 L729.54 9.70 L730.07 9.75 L730.60 9.80 L731.26 9.89 L731.96 10.03 L732.67 10.20 L733.39 10.36 L734.10 10.50 L734.81 10.63 L735.52 10.76 L736.23 10.88 L736.92 10.97 L737.60 11.00 L738.18 10.97 L738.75 10.90 L739.30 10.81 L739.85 10.70 L740.40 10.60 L741.01 10.49 L741.70 10.36 L742.34 10.23 L742.81 10.14 L743.00 10.10" stroke="#f00" stroke-width="1.15" fill="none" stroke-linejoin="round"/>
<g opacity="0.999">
<text x="95.3" y="481.0" font-size="19.8" text-anchor="middle" textLength="47.6" lengthAdjust="spacingAndGlyphs">4000</text>
<text x="280.1" y="481.0" font-size="19.8" text-anchor="middle" textLength="47.6" lengthAdjust="spacingAndGlyphs">3000</text>
<text x="465.9" y="481.0" font-size="19.8" text-anchor="middle" textLength="47.6" lengthAdjust="spacingAndGlyphs">2000</text>
<text x="651.0" y="481.0" font-size="19.8" text-anchor="middle" textLength="47.6" lengthAdjust="spacingAndGlyphs">1000</text>
<text x="89.6" y="17.8" font-size="19.8" text-anchor="end">1</text>
<text x="89.6" y="123.7" font-size="19.8" text-anchor="end" textLength="29.2" lengthAdjust="spacingAndGlyphs">0.9</text>
<text x="89.6" y="229.7" font-size="19.8" text-anchor="end" textLength="29.2" lengthAdjust="spacingAndGlyphs">0.8</text>
<text x="89.6" y="335.7" font-size="19.8" text-anchor="end" textLength="29.2" lengthAdjust="spacingAndGlyphs">0.7</text>
<text x="89.6" y="440.7" font-size="19.8" text-anchor="end" textLength="29.2" lengthAdjust="spacingAndGlyphs">0.6</text>
<text x="419.6" y="505.2" font-size="19.8" text-anchor="middle" textLength="196.6" lengthAdjust="spacingAndGlyphs">Wavenumber (cm-1)</text>
<text transform="translate(24.6,233) rotate(-90)" font-size="19.8" text-anchor="middle" textLength="218.5" lengthAdjust="spacingAndGlyphs">Relative Transmittance</text>
</g>
</svg></body></html>
